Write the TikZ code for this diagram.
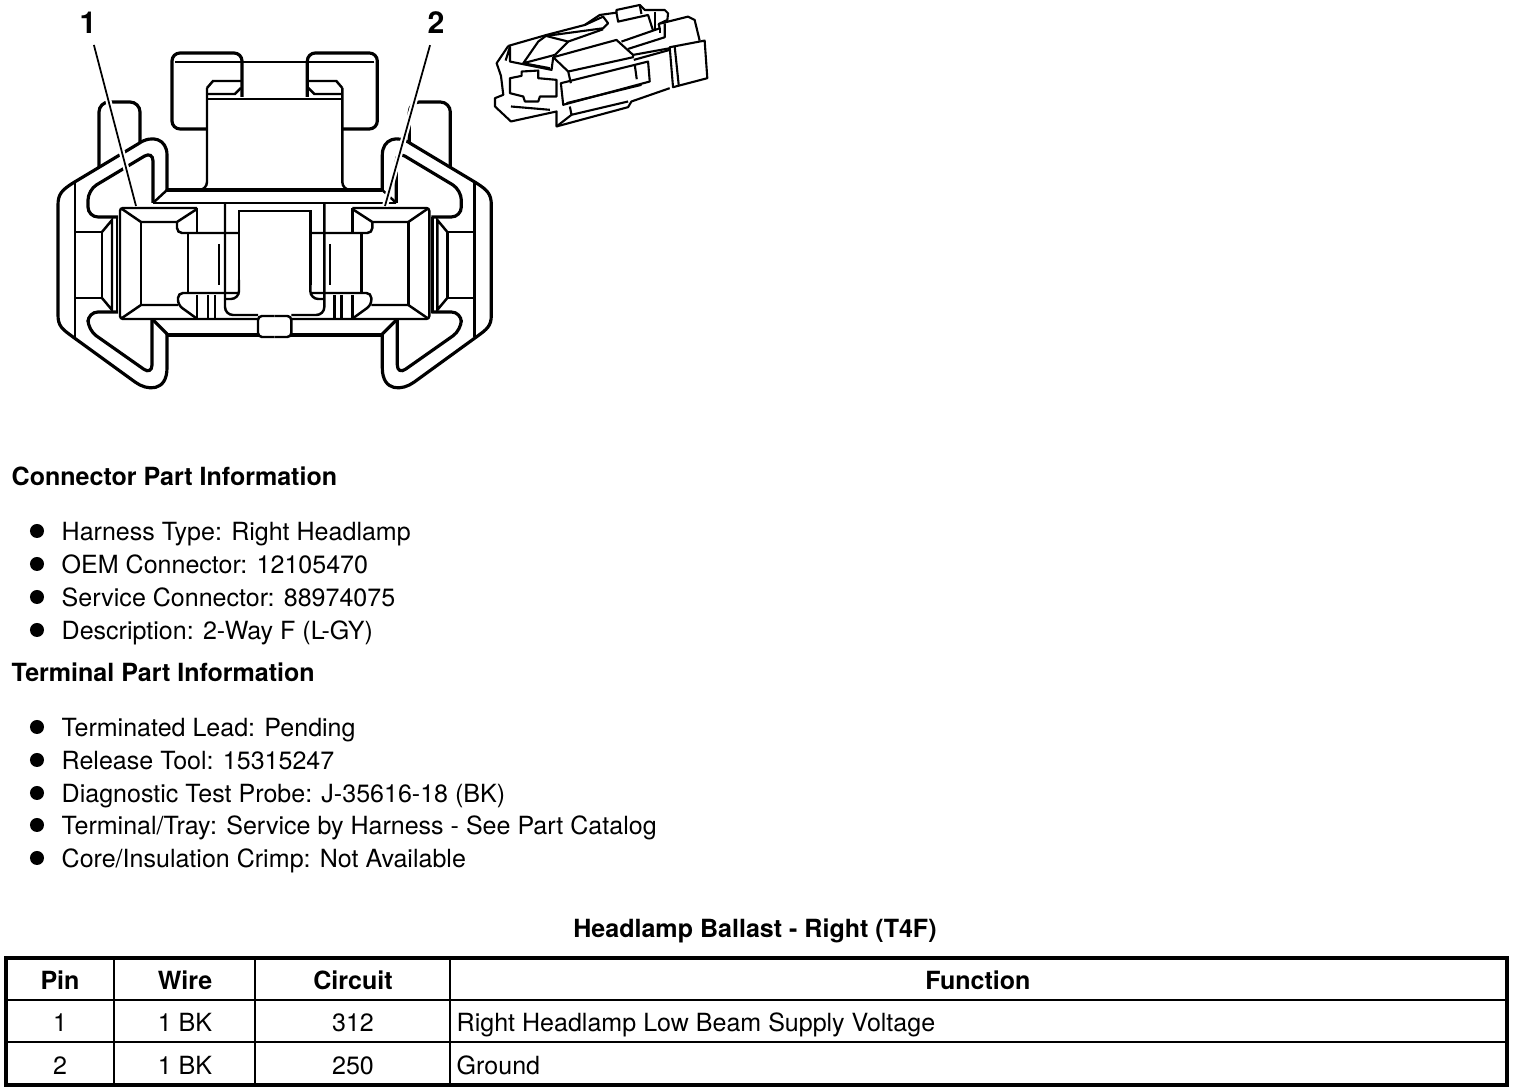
\documentclass[tikz,border=0pt]{standalone}
\usepackage{fontspec}
\setmainfont{TeX Gyre Heros}
\tikzset{
  heavy/.style={line width=0.9pt},
  wire/.style={line width=0.7pt},
  slim/.style={line width=0.5pt},
  leader/.style={line width=0.5pt, preaction={draw, white, line width=1.7pt}},
  txtitem/.style={font=\fontsize{7.12}{8}\selectfont, anchor=base west, inner sep=0pt},
  txthead/.style={font=\fontsize{7.12}{8}\selectfont\bfseries, anchor=base west, inner sep=0pt},
  txtmid/.style={font=\fontsize{7.12}{8}\selectfont, anchor=base, inner sep=0pt},
  txtboldmid/.style={font=\fontsize{7.12}{8}\selectfont\bfseries, anchor=base, inner sep=0pt},
  pinlabel/.style={font=\fontsize{8.6}{10}\selectfont\bfseries, inner sep=3pt},
  dot/.style={circle, fill=black, inner sep=0pt, minimum size=0.14cm},
}
\begin{document}
\begin{tikzpicture}[x=0.01cm, y=-0.01cm]
\useasboundingbox (0,0) rectangle (1520,1092);
% Connector face, left half and its mirror image
\foreach \m in {1,-1} {
\begin{scope}[xshift={(1-\m)*2.745cm}, xscale=\m]
  % Top handle
  \draw[heavy, rounded corners=0.08cm] (242,97) -- (242,53) -- (172,53) -- (172,129) -- (207,129);
  \draw[wire] (175,62) -- (274.5,62);
  \draw[wire] (207,99) -- (274.5,99);
  \draw[wire] (207,94) -- (235,94) -- (241,88);
  \draw[wire] (242,81) -- (213,81) -- (207,88);
  \draw[wire, rounded corners=0.08cm] (207,88) -- (207,190) -- (190,190);
  \draw[heavy] (167,190) -- (274.5,190);
  \draw[wire] (153,203) -- (274.5,203);
  % Back tab
  \draw[heavy, rounded corners=0.1cm] (99,168) -- (99,102) -- (140,102) -- (140,143);
  % Outer band
  \draw[wire] (153,203) -- (167,190);
  \draw[heavy, line join=round] (167,190) -- (167,155) .. controls (167,139) and (152,134) .. (138,144)
    -- (73,183) .. controls (62,190) and (58,194) .. (58,205) -- (58,315)
    .. controls (58,326) and (62,329) .. (73,337) -- (135,382)
    .. controls (147,391) and (167,392) .. (167,368) -- (167,334);
  \draw[heavy] (167,334) -- (153,320);
  \draw[heavy] (167,335) -- (258,335);
  \draw[wire] (75,183) -- (75,337);
  % Inner band
  \draw[heavy, rounded corners=0.1cm] (118,217) -- (88,217) -- (88,190) -- (153,151) -- (153,203);
  \draw[heavy, rounded corners=0.1cm] (118,312) -- (88,312) -- (88,330) -- (152,375) -- (152,320);
  % Side window
  \draw[wire] (75,232) -- (102,232) -- (102,298) -- (75,298);
  \draw[wire] (102,232) -- (112,220) -- (112,310) -- (102,298);
  \draw[wire] (117,217) -- (117,313);
  % Terminal cavity
  \draw[wire, rounded corners=0.03cm] (197,208) -- (120,208) -- (120,319) -- (258,319);
  \draw[wire] (197,208) -- (197,234);
  \draw[wire] (141,222) -- (141,305);
  \draw[wire] (122,209) -- (141,222) -- (177,222) -- (197,209);
  \draw[wire] (122,318) -- (141,305) -- (178,305);
  \draw[wire, rounded corners=0.05cm] (177,222) -- (177,233) -- (239,233);
  \draw[wire] (188,233) -- (188,293);
  \draw[wire, rounded corners=0.05cm] (239,293) -- (178,293) -- (178,305) -- (196,318);
  % Centre pocket
  \draw[wire, rounded corners=0.08cm] (225,203) -- (225,315) -- (258,315);
  \draw[wire] (274.5,211) -- (239,211) -- (239,285);
  \draw[wire, rounded corners=0.08cm] (239,280) -- (239,299) -- (225,299);
  \draw[slim] (219,244) -- (219,285);
  \foreach \xv in {197,208,215} {
    \draw[wire] (\xv,295) -- (\xv,318);
  }
  % Bottom latch
  \draw[wire, rounded corners=0.04cm] (274.5,316) -- (258,316) -- (258,337) -- (274.5,337);
\end{scope}
}
% Pin labels
\node[pinlabel] (pinone) at (88,23) {1};
\node[pinlabel] (pintwo) at (436,23) {2};
\coordinate (pinoneend) at (136,206);
\coordinate (pintwoend) at (385,206);
\draw[leader] (pinone.-75) -- (pinoneend);
\draw[leader] (pintwo.-105) -- (pintwoend);
% Small view of the connector
\begin{scope}[shift={(485,0)}, x=0.00333cm, y=-0.00333cm, line width=0.6pt, line join=round]
  \draw (70,138) -- (35,190) -- (48,228) -- (55,285) -- (30,295) -- (30,320) -- (78,365) -- (215,335) -- (215,380) -- (430,322) -- (440,305) -- (555,265);
  \draw (70,138) -- (185,105) -- (300,75) -- (345,45) -- (395,38) -- (395,30) -- (465,15) -- (480,30) -- (540,30) -- (550,40) -- (548,60) -- (522,72) -- (610,50) -- (630,60) -- (645,122);
  \draw (555,142) -- (660,122) -- (668,235) -- (565,262) -- cycle;
  \draw (570,140) -- (582,255);
  \draw (205,172) -- (395,120) -- (445,165) -- (555,145);
  \draw (447,180) -- (555,150);
  \draw (205,172) -- (250,215) -- (258,250);
  \draw (250,215) -- (445,172) -- (445,165);
  \draw (228,250) -- (490,185) -- (495,245) -- (235,315) -- cycle;
  \draw (450,195) -- (456,238);
  \draw (245,310) -- (470,255);
  \draw (255,320) -- (260,345) -- (430,305);
  \draw (215,380) -- (260,345);
  \draw (75,235) -- (110,228) -- (110,215) -- (160,212) -- (160,235) -- (215,240) -- (215,290) -- (165,290) -- (160,305) -- (120,305) -- (115,290) -- (75,280) -- cycle;
  \draw (62,182) -- (75,140) -- (75,185) -- (200,210) -- (205,172);
  \draw (115,190) -- (160,125) -- (183,108) -- (250,125) -- (210,165) -- cycle;
  \draw (115,190) -- (195,205);
  \draw (183,108) -- (355,85) -- (370,70) -- (355,50) -- (300,75);
  \draw (250,125) -- (355,88);
  \draw (395,38) -- (400,65) -- (490,45) -- (505,92) -- (410,125);
  \draw (505,92) -- (525,85) -- (522,72);
  \draw (465,15) -- (470,42);
  \draw (430,147) -- (540,112) -- (540,70);
  \draw (525,85) -- (525,100);
  \draw (510,35) -- (510,90);
  \draw (78,320) -- (195,330);
\end{scope}
% Connector part list
\node[txthead] (connhead) at (11,486) {Connector Part Information};
\foreach \i/\yb/\txt in {1/541/{Harness Type: Right Headlamp}, 2/574/{OEM Connector: 12105470},
    3/607/{Service Connector: 88974075}, 4/640/{Description: 2-Way F (L-GY)}} {
  \node[dot] (conndot\i) at (37,\yb-10) {};
  \node[txtitem] (connitem\i) at (61,\yb) {\txt};
}
% Terminal part list
\node[txthead] (termhead) at (11,682) {Terminal Part Information};
\foreach \i/\yb/\txt in {1/737/{Terminated Lead: Pending}, 2/770/{Release Tool: 15315247},
    3/803/{Diagnostic Test Probe: J-35616-18 (BK)}, 4/835/{Terminal/Tray: Service by Harness - See Part Catalog},
    5/868/{Core/Insulation Crimp: Not Available}} {
  \node[dot] (termdot\i) at (37,\yb-10) {};
  \node[txtitem] (termitem\i) at (61,\yb) {\txt};
}
% Table
\node[txtboldmid] (tabtitle) at (755,938) {Headlamp Ballast - Right (T4F)};
\draw[line width=1.1pt] (6,958) rectangle (1507,1085);
\foreach \xv in {114,255,450} {
  \draw[wire] (\xv,958) -- (\xv,1085);
}
\draw[wire] (6,1000) -- (1507,1000);
\draw[wire] (6,1042) -- (1507,1042);
\node[txtboldmid] (headpin) at (60,990) {Pin};
\node[txtboldmid] (headwire) at (185,990) {Wire};
\node[txtboldmid] (headcircuit) at (353,990) {Circuit};
\node[txtboldmid] (headfunction) at (978,990) {Function};
\foreach \r/\yb/\p/\c/\txt in {1/1032/1/312/{Right Headlamp Low Beam Supply Voltage}, 2/1075/2/250/{Ground}} {
  \node[txtmid] (pin\r) at (60,\yb) {\p};
  \node[txtmid] (wire\r) at (185,\yb) {1 BK};
  \node[txtmid] (circuit\r) at (353,\yb) {\c};
  \node[txtitem] (function\r) at (456,\yb) {\txt};
}
\end{tikzpicture}
\end{document}
